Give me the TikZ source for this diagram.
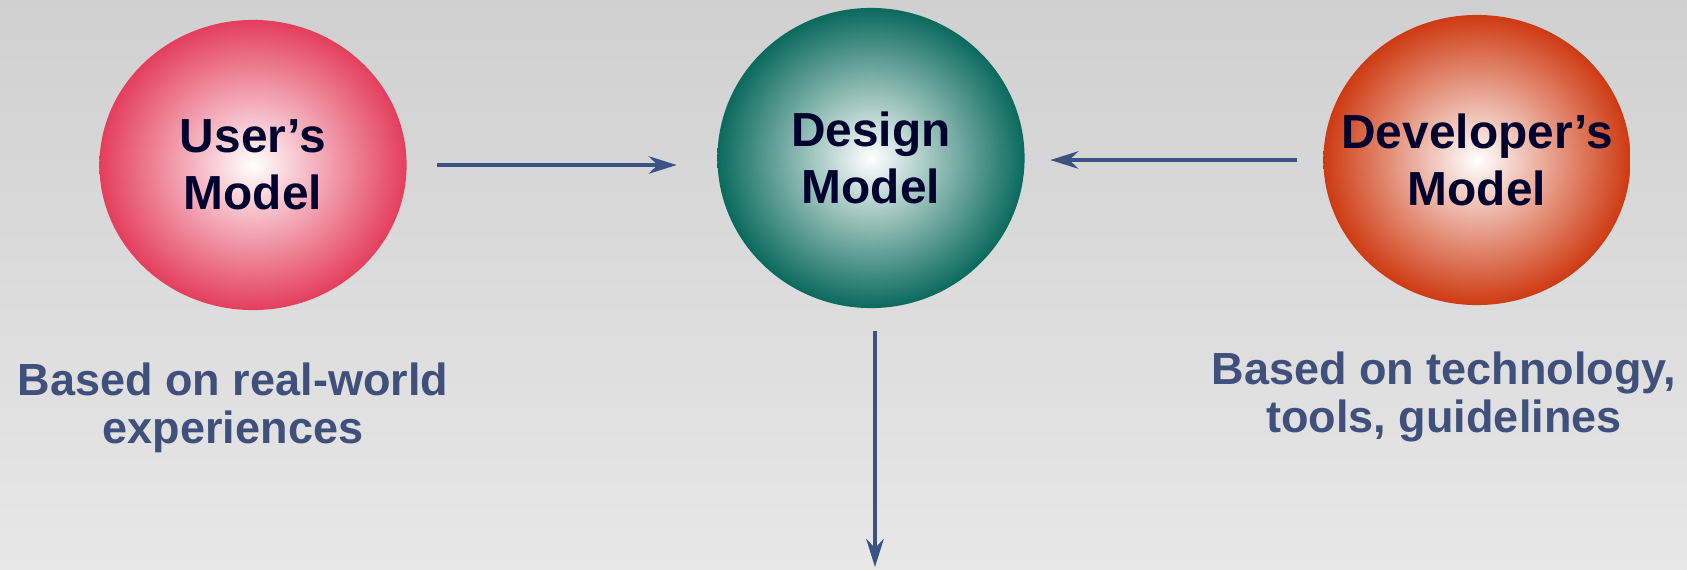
\documentclass[tikz,border=0pt]{standalone}
\usepackage{fontspec}
\setmainfont{Liberation Sans}
\usepackage{tikz}
\usetikzlibrary{arrows.meta,shapes.geometric,calc}

\definecolor{bgtop}{RGB}{208,208,208}
\definecolor{bgbot}{RGB}{231,231,231}
\definecolor{arrowblue}{RGB}{59,82,132}
\definecolor{notetext}{RGB}{64,80,124}
\definecolor{modeltext}{RGB}{2,2,46}
\definecolor{userred}{RGB}{228,62,92}
\definecolor{designteal}{RGB}{10,106,92}
\definecolor{devorange}{RGB}{206,58,18}

\begin{document}
\begin{tikzpicture}[x=0.01cm,y=-0.01cm,>={Stealth[length=8pt,width=5pt,inset=2.6pt]},
        model/.style={ellipse,minimum width=3.07cm,minimum height=2.9cm,inner sep=0pt,
          inner color=white,
          label={[text=modeltext,align=center,
            font=\fontsize{13.6pt}{16.2pt}\selectfont\bfseries]center:#1}},
        note/.style={text=notetext,align=center,
          font=\fontsize{12.8pt}{13.8pt}\selectfont\bfseries},
        link/.style={->,draw=arrowblue,line width=0.9pt}]

  % background
  \shade[top color=bgtop,bottom color=bgbot] (0,0) rectangle (1687,569);
  \useasboundingbox (0,0) rectangle (1687,569);

  \node[model={User’s\\Model},outer color=userred] (user) at (253,165) {};
  \node[model={Design\\Model},outer color=designteal,minimum height=3cm] (design) at (871,158) {};
  \node[model={Developer’s\\Model},outer color=devorange] (dev) at (1477,160) {};

  \node[note] (userbase) at (233,408) {Based on real-world\\experiences};
  \node[note] (devbase) at (1444,397) {Based on technology,\\tools, guidelines};

  \coordinate (impl) at (875,567);

  \draw[link] ([xshift=0.3cm]user.east) -- ([xshift=-0.4cm]user.east -| design.west);
  \draw[link] ([xshift=-0.26cm]dev.west) -- ([xshift=0.25cm]dev.west -| design.east);
  \draw[link] ([yshift=-0.22cm]design.south -| impl) -- (impl);

\end{tikzpicture}
\end{document}
